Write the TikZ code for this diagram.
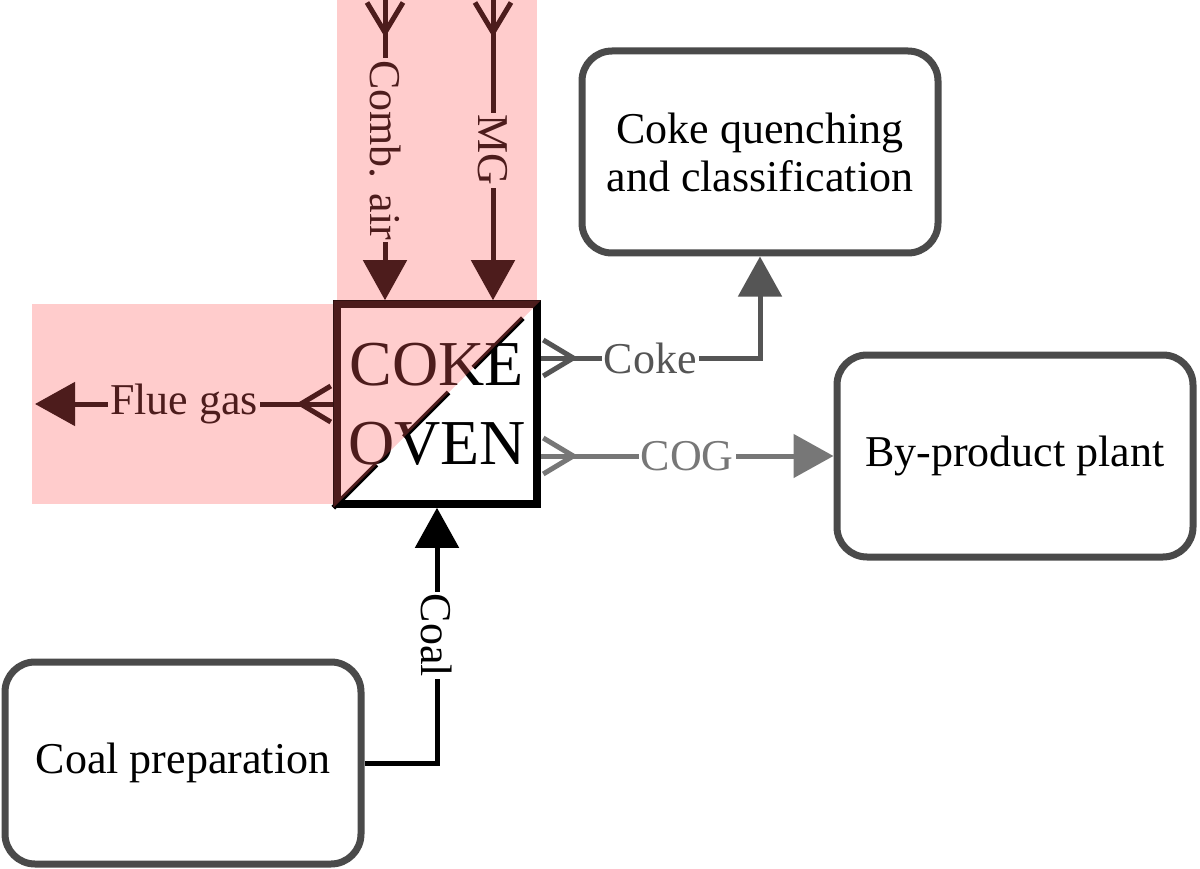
\documentclass[tikz,border=0pt]{standalone}
\usepackage{fontspec}
\setmainfont{Liberation Serif}
\usetikzlibrary{arrows.meta}
\definecolor{pinkband}{RGB}{255,204,204}
\definecolor{pinktri}{RGB}{255,198,198}
\definecolor{darkred}{RGB}{77,28,28}
\definecolor{cokegray}{RGB}{85,85,85}
\definecolor{coggray}{RGB}{119,119,119}
\definecolor{boxgray}{RGB}{74,74,74}
\tikzset{
  procbox/.style={draw=boxgray, line width=7pt, rounded corners=30pt, minimum width=356pt, minimum height=202pt, align=center, fill=white},
  ovenbox/.style={draw=black, line width=7.5pt, fill=white, minimum size=200pt, inner sep=0pt},
  oventext/.style={font=\fontsize{64}{79}\selectfont, align=center, inner sep=0pt},
  flow/.style={line width=5pt, -{Triangle[length=40pt,width=43pt]}},
  tail/.style={line width=5pt, {Straight Barb[reversed,length=30pt,width=36pt]}-},
  flowlabel/.style={inner sep=2pt},
}
\begin{document}
\begin{tikzpicture}[x=1pt, y=-1pt, font=\fontsize{44}{48}\selectfont]
\useasboundingbox (0,0) rectangle (1200,869);
\fill[pinkband] (336.75,0) rectangle (537.25,304);
\fill[pinkband] (32,304) rectangle (336.75,504);

\node[procbox] (quench) at (760,152) {Coke quenching\\and classification};
\node[procbox] (byprod) at (1015,456) {By-product plant};
\node[procbox] (prep) at (183,763) {Coal preparation};

\node[ovenbox, path picture={\fill[pinktri] (path picture bounding box.south west) -- (path picture bounding box.north west) -- (path picture bounding box.north east) -- cycle;}] (oven) at (437,404) {};
\draw[line width=5pt, dash pattern=on 61pt off 39pt on 63pt off 35pt on 70pt off 200pt] (oven.south west) -- (oven.north east);
\node[oventext] (ovenlabel) at (oven.center) {COKE\\OVEN};
\fill[darkred, blend mode=screen] (oven.south west) -- (oven.north west) -- (oven.north east) -- cycle;

\coordinate (airin) at (385,0);
\coordinate (mgin) at (493,0);
\coordinate (flueout) at (35,404);

\draw[flow, darkred] (airin) -- node[flowlabel, rotate=-90, fill=pinkband] {Comb. air} (airin |- oven.north);
\draw[tail, darkred] (airin) -- ++(0,40);
\draw[flow, darkred] (mgin) -- node[flowlabel, rotate=-90, fill=pinkband] {MG} (mgin |- oven.north);
\draw[tail, darkred] (mgin) -- ++(0,40);

\draw[flow, darkred] (oven.west) -- node[flowlabel, fill=pinkband] {Flue gas} (flueout);
\draw[tail, darkred] (oven.west) -- ++(-40,0);

\draw[flow, cokegray] ([yshift=46pt]oven.east) -| node[flowlabel, pos=.25, fill=white] {Coke} (quench.south);
\draw[tail, cokegray] ([yshift=46pt]oven.east) -- ++(40,0);

\draw[flow, coggray] (oven.east |- byprod.west) -- node[flowlabel, fill=white] {COG} (byprod.west);
\draw[tail, coggray] (oven.east |- byprod.west) -- ++(40,0);

\draw[flow, black] (prep.east) -| node[flowlabel, pos=.75, rotate=-90, fill=white] {Coal} (oven.south);
\end{tikzpicture}
\end{document}
